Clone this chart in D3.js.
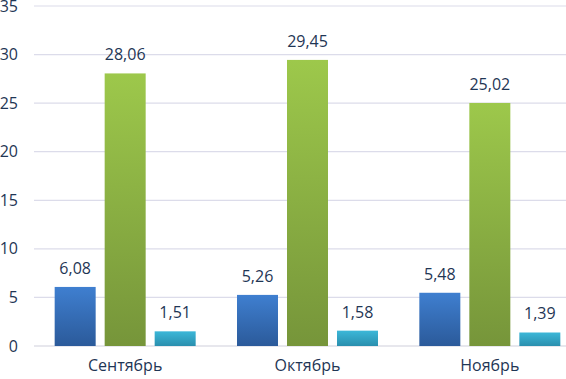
<!DOCTYPE html>
<html>
<head>
<meta charset="utf-8">
<script src="https://cdn.jsdelivr.net/npm/d3@7"></script>
<style>
  body { margin: 0; background: #fff; }
  text { font-family: "Open Sans", "Noto Sans", sans-serif; }
</style>
</head>
<body>
<div id="wrapper"></div>
<script>
const months = ["Сентябрь", "Октябрь", "Ноябрь"];
const seriesNames = ["s1", "s2", "s3"];
const seriesA = [6.08, 5.26, 5.48];
const seriesB = [28.06, 29.45, 25.02];
const seriesC = [1.51, 1.58, 1.39];
const yTicks = [0, 5, 10, 15, 20, 25, 30, 35];

const colors = {
  s1: ["#3f7fd0", "#2b5a9a"],
  s2: ["#9dc84b", "#76953a"],
  s3: ["#3cb7d8", "#2a8fae"],
};

const dimensions = {
  width: 566,
  height: 379,
  margin: { top: 6, right: -15, bottom: 33, left: 34 },
};
dimensions.boundedWidth = dimensions.width - dimensions.margin.left - dimensions.margin.right;
dimensions.boundedHeight = dimensions.height - dimensions.margin.top - dimensions.margin.bottom;

const data = months.map((m, i) => ({
  month: m,
  values: [
    { key: "s1", value: seriesA[i] },
    { key: "s2", value: seriesB[i] },
    { key: "s3", value: seriesC[i] },
  ],
}));

const svg = d3.select("#wrapper")
  .append("svg")
    .attr("width", dimensions.width)
    .attr("height", dimensions.height);

const defs = svg.append("defs");
seriesNames.forEach(k => {
  const g = defs.append("linearGradient")
    .attr("id", "grad-" + k)
    .attr("x1", 0).attr("y1", 0).attr("x2", 0).attr("y2", 1);
  g.append("stop").attr("offset", "0%").attr("stop-color", colors[k][0]);
  g.append("stop").attr("offset", "100%").attr("stop-color", colors[k][1]);
});

const bounds = svg.append("g")
  .attr("transform", `translate(${dimensions.margin.left}, ${dimensions.margin.top})`);

const yScale = d3.scaleLinear()
  .domain([0, 35])
  .range([dimensions.boundedHeight, 0]);

const x0 = d3.scaleBand()
  .domain(months)
  .range([0, dimensions.boundedWidth]);

const x1 = d3.scaleBand()
  .domain(seriesNames)
  .range([-70.5, 70.5])
  .paddingInner(0.18);

// gridlines
bounds.append("g")
  .selectAll("line")
  .data(yTicks)
  .join("line")
    .attr("x1", 0)
    .attr("x2", dimensions.width)
    .attr("y1", d => yScale(d))
    .attr("y2", d => yScale(d))
    .attr("stroke", d => d === 0 ? "#d0d0dc" : "#dcdcea")
    .attr("stroke-width", 1.2);

// y tick labels
const yAxis = d3.axisLeft(yScale)
  .tickValues(yTicks)
  .tickSize(0)
  .tickPadding(16);
bounds.append("g")
  .call(yAxis)
  .call(g => g.select(".domain").remove())
  .selectAll("text")
    .attr("fill", "#1f3655")
    .style("font-size", "16px");

// bars
const groups = bounds.selectAll(".grp")
  .data(data)
  .join("g")
    .attr("class", "grp")
    .attr("transform", d => `translate(${x0(d.month) + x0.bandwidth() / 2}, 0)`);

groups.selectAll("rect")
  .data(d => d.values)
  .join("rect")
    .attr("x", d => x1(d.key))
    .attr("y", d => yScale(d.value))
    .attr("width", x1.bandwidth())
    .attr("height", d => yScale(0) - yScale(d.value))
    .attr("fill", d => `url(#grad-${d.key})`);

groups.selectAll(".val")
  .data(d => d.values)
  .join("text")
    .attr("class", "val")
    .attr("x", d => x1(d.key) + x1.bandwidth() / 2)
    .attr("y", d => yScale(d.value) - 13)
    .attr("text-anchor", "middle")
    .attr("fill", "#1f3655")
    .style("font-size", "16px")
    .text(d => d3.format(".2f")(d.value).replace(".", ","));

// x labels
const xAxis = d3.axisBottom(x0).tickSize(0).tickPadding(14);
bounds.append("g")
  .attr("transform", `translate(0, ${dimensions.boundedHeight})`)
  .call(xAxis)
  .call(g => g.select(".domain").remove())
  .selectAll("text")
    .attr("fill", "#1f3655")
    .style("font-size", "16px");
</script>
</body>
</html>
